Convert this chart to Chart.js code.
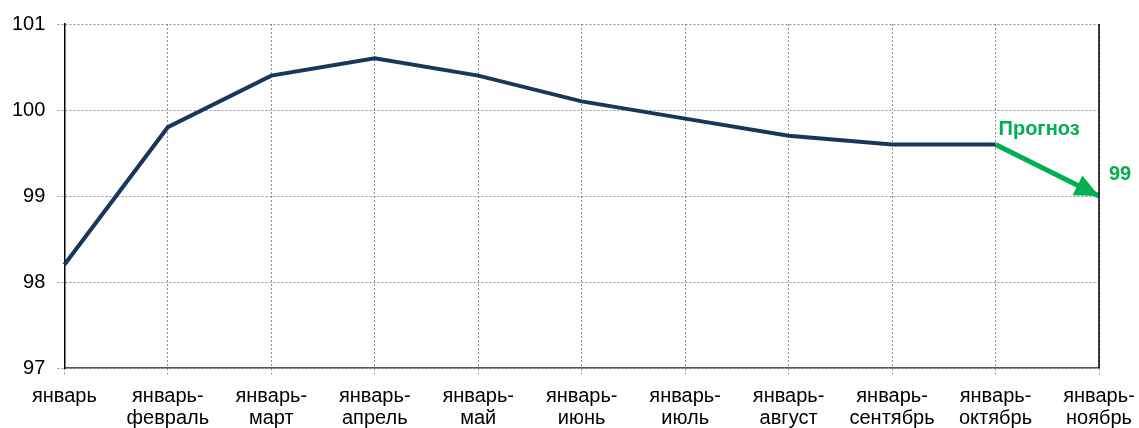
<!DOCTYPE html>
<html>
<head>
<meta charset="UTF-8">
<title>Индекс</title>
<script src="https://cdn.jsdelivr.net/npm/chart.js@4.4.0/dist/chart.umd.min.js"></script>
<style>
    html, body { margin: 0; padding: 0; background: #fff; }
    #wrap { width: 1139px; height: 428px; }
</style>
</head>
<body>
<div id="wrap"><canvas id="chart"></canvas></div>
<script>
// Data
const categories = [
    'январь',
    ['январь-', 'февраль'],
    ['январь-', 'март'],
    ['январь-', 'апрель'],
    ['январь-', 'май'],
    ['январь-', 'июнь'],
    ['январь-', 'июль'],
    ['январь-', 'август'],
    ['январь-', 'сентябрь'],
    ['январь-', 'октябрь'],
    ['январь-', 'ноябрь']
];
const actualValues = [98.2, 99.8, 100.4, 100.6, 100.4, 100.1, 99.9, 99.7, 99.6, 99.6, null];
const forecastValues = [null, null, null, null, null, null, null, null, null, 99.6, 99.0];
const forecastLabel = 'Прогноз';
const yTicks = [97, 98, 99, 100, 101];

const FONT = 'Liberation Sans, Arial, sans-serif';
const GREEN = '#00b050';

// arrow head, right border and forecast text
const forecastPlugin = {
    id: 'forecastPlugin',
    afterDatasetsDraw(chart) {
        const { ctx, chartArea, scales } = chart;
        const xs = scales.x, ys = scales.y;
        const n = forecastValues.length;
        const x0 = xs.getPixelForValue(n - 2), y0 = ys.getPixelForValue(forecastValues[n - 2]);
        const x1 = xs.getPixelForValue(n - 1), y1 = ys.getPixelForValue(forecastValues[n - 1]);
        const ang = Math.atan2(y1 - y0, x1 - x0);
        const len = 24, half = 11;

        ctx.save();
        // right border of the plot
        ctx.strokeStyle = '#000';
        ctx.lineWidth = 1.5;
        ctx.beginPath();
        ctx.moveTo(chartArea.right, chartArea.top);
        ctx.lineTo(chartArea.right, chartArea.bottom);
        ctx.stroke();

        ctx.fillStyle = GREEN;
        ctx.beginPath();
        ctx.moveTo(x1, y1);
        ctx.lineTo(x1 - len * Math.cos(ang) + half * Math.sin(ang), y1 - len * Math.sin(ang) - half * Math.cos(ang));
        ctx.lineTo(x1 - len * Math.cos(ang) - half * Math.sin(ang), y1 - len * Math.sin(ang) + half * Math.cos(ang));
        ctx.closePath();
        ctx.fill();

        ctx.font = 'bold 20px ' + FONT;
        ctx.textBaseline = 'middle';
        ctx.textAlign = 'left';
        ctx.fillText(forecastLabel, x0 + 3, y0 - 15);
        ctx.fillText(String(forecastValues[n - 1]), x1 + 10, y1 - 22);
        ctx.restore();
    }
};

new Chart(document.getElementById('chart'), {
    type: 'line',
    data: {
        labels: categories,
        datasets: [
            {
                data: actualValues,
                borderColor: '#1b365d',
                borderWidth: 4,
                pointRadius: 0,
                tension: 0,
                spanGaps: false
            },
            {
                data: forecastValues,
                borderColor: GREEN,
                borderWidth: 5,
                pointRadius: 0,
                tension: 0
            }
        ]
    },
    options: {
        responsive: true,
        maintainAspectRatio: false,
        animation: false,
        layout: { padding: { top: 15, right: 40, left: 0, bottom: 0 } },
        plugins: {
            legend: { display: false },
            tooltip: { enabled: false }
        },
        scales: {
            x: {
                offset: false,
                afterFit(axis) {
                    axis.height = 60;
                    axis.paddingLeft = 0;
                    axis.paddingRight = 0;
                },
                grid: {
                    color: '#909090',
                    lineWidth: 1,
                    tickLength: 7,
                    tickBorderDash: [2, 2]
                },
                border: { display: true, color: '#555', width: 1.5, dash: [2, 2] },
                ticks: {
                    color: '#000',
                    font: { family: FONT, size: 20, lineHeight: 1.1 },
                    maxRotation: 0,
                    autoSkip: false,
                    padding: 10
                }
            },
            y: {
                min: 97,
                max: 101,
                afterBuildTicks(axis) {
                    axis.ticks = yTicks.map(v => ({ value: v }));
                },
                grid: {
                    color: '#909090',
                    lineWidth: 1,
                    tickLength: 7,
                    tickBorderDash: [2, 2]
                },
                border: { display: true, color: '#000', width: 1.5, dash: [2, 2] },
                ticks: {
                    color: '#000',
                    font: { family: FONT, size: 20 },
                    padding: 12
                }
            }
        }
    },
    plugins: [forecastPlugin]
});
</script>
</body>
</html>
